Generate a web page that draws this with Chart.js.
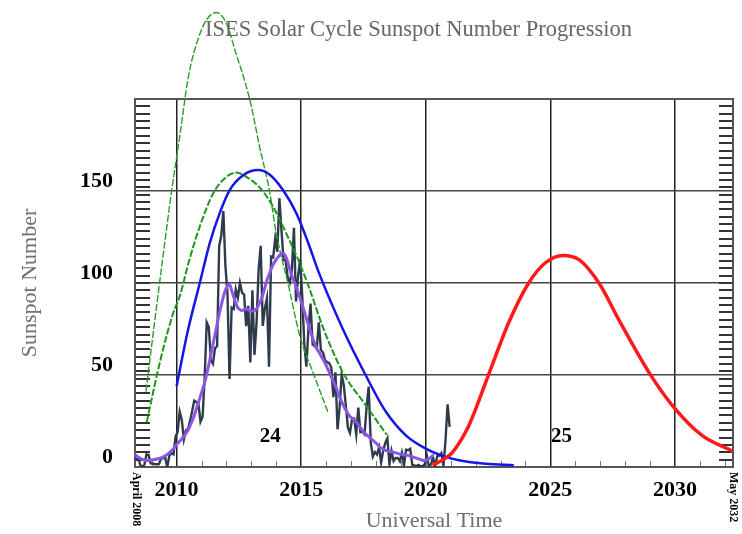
<!DOCTYPE html>
<html>
<head>
<meta charset="utf-8">
<title>ISES Solar Cycle Sunspot Number Progression</title>
<script src="https://cdn.jsdelivr.net/npm/chart.js@4.4.1/dist/chart.umd.min.js"></script>
<style>
  html, body { margin: 0; padding: 0; background: #fff; }
</style>
</head>
<body>
<canvas id="chart" width="742" height="534"></canvas>
<script>
// observed monthly sunspot number, April 2008 .. December 2020
const observedStart = 2008.25;
const observedValues = [
  5.3, 4.0, 4.9, 1.1, 0.0, 1.2, 6.9, 6.5, 2.0,
  1.9, 1.5, 1.5, 1.6, 4.5, 4.8, 5.1, 0.0, 6.1, 7.5, 6.9, 16.6,
  19.0, 30.0, 25.6, 15.0, 19.9, 20.8, 25.2, 30.5, 36.0, 35.3, 34.4, 24.6,
  27.3, 48.3, 78.6, 76.1, 58.2, 56.1, 64.5, 65.8, 120.1, 125.7, 139.1, 109.3,
  94.4, 47.8, 86.6, 85.9, 96.5, 92.0, 100.1, 94.8, 93.7, 76.5, 87.6, 56.8,
  96.1, 60.9, 78.3, 107.3, 120.2, 76.7, 86.2, 91.8, 54.5, 114.4, 113.9, 124.2,
  117.0, 146.1, 128.7, 112.5, 112.5, 102.9, 100.2, 106.9, 130.0, 90.0, 103.6, 112.9,
  93.0, 66.7, 54.5, 75.3, 88.8, 66.5, 65.8, 64.4, 78.6, 63.6, 62.2, 58.0,
  57.0, 56.4, 54.1, 37.9, 51.5, 20.5, 32.4, 50.2, 44.6, 33.4, 21.4, 18.5,
  26.1, 26.4, 17.7, 32.3, 18.9, 19.2, 17.8, 32.6, 43.7, 13.2, 5.7, 8.2,
  6.8, 10.7, 2.5, 8.9, 13.1, 15.6, 1.6, 8.7, 3.3, 4.9, 4.9, 3.1,
  7.7, 0.8, 9.4, 9.1, 9.9, 1.2, 0.9, 0.5, 1.1, 0.4, 0.5, 1.5,
  6.2, 0.2, 1.5, 5.2, 0.2, 5.8, 6.1, 7.5, 0.6, 14.4, 34.0, 21.8
];

// 13-month smoothed sunspot number, April 2008 .. April 2020
const smoothedValues = [
  7.0, 6.2, 5.4, 4.7, 4.1, 3.7, 3.5, 3.5, 3.7,
  3.9, 4.1, 4.3, 4.6, 5.0, 5.5, 6.1, 6.8, 7.7, 8.8, 10.0, 11.5,
  12.8, 14.0, 15.3, 16.7, 18.3, 20.0, 22.5, 25.0, 28.0, 31.5, 35.0, 38.5,
  42.0, 46.0, 50.5, 55.5, 61.0, 66.5, 72.0, 77.5, 83.0, 88.0, 92.5, 96.0,
  98.5, 99.2, 96.0, 92.5, 89.0, 86.5, 85.5, 85.0, 85.5, 86.0, 85.5, 85.0,
  84.8, 85.0, 86.0, 88.0, 90.5, 93.5, 97.5, 101.5, 104.5, 107.5, 110.0, 112.0,
  113.5, 115.0, 116.0, 116.0, 114.5, 111.5, 107.5, 104.0, 101.0, 98.0, 95.0, 91.5,
  88.0, 84.5, 81.0, 77.0, 73.5, 70.0, 67.0, 64.5, 62.5, 60.5, 58.5, 56.5,
  54.0, 51.5, 49.0, 46.5, 44.0, 41.0, 38.0, 35.5, 33.0, 31.0, 29.0, 27.5,
  26.5, 25.5, 24.5, 23.0, 21.5, 20.0, 18.5, 17.5, 16.5, 15.5, 14.5, 13.5,
  12.5, 11.2, 10.3, 9.7, 9.2, 8.8, 8.5, 8.3, 8.0, 7.7, 7.4, 7.1,
  6.9, 6.7, 6.5, 6.3, 6.0, 5.6, 5.2, 4.8, 4.4, 4.0, 3.7, 3.6,
  3.8, 4.4, 5.3, 6.4
];

// cycle 24 predictions (green: high / low panel curves, blue: revised)
const highPredYears = [2008.77, 2009.1, 2009.44, 2009.8, 2010.13, 2010.47, 2010.8, 2011.2, 2011.6, 2012.0,
  2012.4, 2012.73, 2013.0, 2013.33, 2013.73, 2014.0, 2014.5, 2014.94, 2015.47, 2016.07];
const highPredValues = [41, 77, 113, 150, 180, 212, 230, 243, 247, 241,
  224, 210, 196, 174, 150, 127, 98, 71.5, 51.5, 30];

const lowPredYears = [2008.8, 2009.33, 2009.87, 2010.13, 2010.5, 2010.93, 2011.47, 2012.0, 2012.4, 2012.8,
  2013.33, 2013.87, 2014.4, 2014.93, 2015.33, 2015.87, 2016.67, 2017.6, 2018.43];
const lowPredValues = [24.4, 57, 84, 93, 112, 130.7, 148.8, 157.7, 160, 157.7,
  152, 141.5, 127, 111, 97, 76, 51.5, 33.4, 17.6];

const bluePredYears = [2010.0, 2010.45, 2010.93, 2011.33, 2011.73, 2012.13, 2012.67, 2013.27, 2013.73,
  2014.27, 2014.8, 2015.33, 2015.67, 2016.67, 2017.6, 2018.4, 2019.2, 2020.0, 2020.8, 2021.33, 2022.4, 2023.53];
const bluePredValues = [44, 74, 100, 121.7, 138, 150.5, 158.6, 161.4, 159,
  150.5, 138, 120, 107, 75, 49.6, 30, 17.2, 10, 5.5, 3.7, 1.8, 1.0];

// cycle 25 prediction
const cycle25Years = [2020.27, 2020.7, 2021.07, 2021.73, 2022.53, 2023.33, 2024.13, 2024.8, 2025.5, 2026.15,
  2026.95, 2027.75, 2029.0, 2029.9, 2031.1, 2032.33];
const cycle25Values = [1, 4, 8, 22.6, 50.5, 78.5, 100, 111, 115, 112.7,
  100, 80, 50.5, 33.4, 17, 8.5];

const yTicks = [0, 50, 100, 150];
const cycleLabels = ["24", "25"];
const cycleLabelYears = [2013.76, 2025.45];
const cycleLabelLevel = 16.8;

const serif = "'Liberation Serif', 'Times New Roman', serif";

function monthly(start, values) {
  return values.map((v, i) => ({ x: start + (i + 0.5) / 12, y: v }));
}
function pairs(xs, ys) {
  return xs.map((x, i) => ({ x: x, y: ys[i] }));
}

const decorations = {
  id: "decorations",
  beforeDatasetsDraw(chart) {
    const { ctx, chartArea: a, scales } = chart;
    const x = scales.x, y = scales.y;
    ctx.save();
    // dense ticks on left and right edges
    ctx.strokeStyle = "#333";
    ctx.lineWidth = 2;
    ctx.beginPath();
    for (let v = 4; v < 200; v += 4) {
      const py = Math.round(y.getPixelForValue(v));
      ctx.moveTo(a.left, py);
      ctx.lineTo(a.left + 15, py);
      ctx.moveTo(a.right - 14, py);
      ctx.lineTo(a.right, py);
    }
    ctx.stroke();
    // yearly ticks on the bottom edge
    ctx.strokeStyle = "#777";
    ctx.lineWidth = 1;
    ctx.beginPath();
    for (let yr = 2009; yr <= 2032; yr++) {
      if (yr % 5 === 0) continue;
      const px = Math.round(x.getPixelForValue(yr)) + 0.5;
      ctx.moveTo(px, a.bottom);
      ctx.lineTo(px, a.bottom - 6);
    }
    ctx.stroke();
    // frame
    ctx.strokeStyle = "#555";
    ctx.lineWidth = 2;
    ctx.strokeRect(a.left, a.top, a.right - a.left, a.bottom - a.top);
    ctx.restore();
  },
  afterDraw(chart) {
    const { ctx, chartArea: a, scales } = chart;
    const x = scales.x, y = scales.y;
    ctx.save();
    ctx.fillStyle = "#666";
    ctx.font = "22.5px " + serif;
    ctx.textAlign = "center";
    ctx.textBaseline = "alphabetic";
    ctx.fillText("ISES Solar Cycle Sunspot Number Progression", 418.5, 36);

    ctx.fillStyle = "#000";
    ctx.font = "bold 21px " + serif;
    ctx.textBaseline = "middle";
    cycleLabels.forEach((t, i) => {
      ctx.fillText(t, x.getPixelForValue(cycleLabelYears[i]), y.getPixelForValue(cycleLabelLevel));
    });

    ctx.font = "bold 12px " + serif;
    ctx.textAlign = "left";
    [["April 2008", a.left + 1], ["May 2032", a.right]].forEach(([t, px]) => {
      ctx.save();
      ctx.translate(px, a.bottom + 5);
      ctx.rotate(Math.PI / 2);
      ctx.fillText(t, 0, 0);
      ctx.restore();
    });
    ctx.restore();
  }
};

const line = (data, color, width, extra) => Object.assign({
  data: data,
  borderColor: color,
  borderWidth: width,
  pointRadius: 0,
  fill: false
}, extra || {});

new Chart(document.getElementById("chart"), {
  type: "line",
  data: {
    datasets: [
      line(monthly(observedStart, smoothedValues), "#8b55e6", 3, { tension: 0.4 }),
      line(pairs(cycle25Years, cycle25Values), "#ff1a1a", 3.5, { cubicInterpolationMode: "monotone" }),
      line(pairs(bluePredYears, bluePredValues), "#1515e8", 2.5, { cubicInterpolationMode: "monotone" }),
      line(pairs(lowPredYears, lowPredValues), "#1e961e", 2, { cubicInterpolationMode: "monotone", borderDash: [7, 2] }),
      line(pairs(highPredYears, highPredValues), "#2a9d2a", 1.4, { cubicInterpolationMode: "monotone", borderDash: [7, 2], clip: false }),
      line(monthly(observedStart, observedValues), "#2e3b4c", 2.4, { tension: 0 })
    ]
  },
  options: {
    responsive: false,
    animation: false,
    layout: { padding: { top: 99, right: 9, bottom: 0, left: 0 } },
    plugins: { legend: { display: false }, tooltip: { enabled: false }, title: { display: false } },
    scales: {
      x: {
        type: "linear",
        min: 2008.33,
        max: 2032.33,
        afterFit: (s) => { s.height = 67; },
        border: { display: false },
        grid: { color: "#222", lineWidth: 1.5, drawTicks: false },
        ticks: {
          stepSize: 5,
          includeBounds: false,
          autoSkip: false,
          maxRotation: 0,
          padding: 10,
          color: "#000",
          font: { family: serif, size: 22, weight: "bold" },
          callback: (v) => String(v)
        },
        title: {
          display: true,
          text: "Universal Time",
          color: "#6e6e6e",
          font: { family: serif, size: 22, lineHeight: 1 },
          padding: { top: 0, bottom: 2 }
        }
      },
      y: {
        min: 0,
        max: 200,
        afterFit: (s) => { s.width = 135; },
        afterBuildTicks: (s) => { s.ticks = yTicks.concat([200]).map((v) => ({ value: v })); },
        border: { display: false },
        grid: { color: "#444", lineWidth: 1.5, drawTicks: false },
        ticks: {
          padding: 22,
          labelOffset: -10,
          color: "#000",
          font: { family: serif, size: 22, weight: "bold" },
          callback: (v) => (yTicks.includes(v) ? String(v) : "")
        },
        title: {
          display: true,
          text: "Sunspot Number",
          color: "#6e6e6e",
          font: { family: serif, size: 22, lineHeight: 1 },
          padding: { top: 19, bottom: 0 }
        }
      }
    }
  },
  plugins: [decorations]
});
</script>
</body>
</html>
